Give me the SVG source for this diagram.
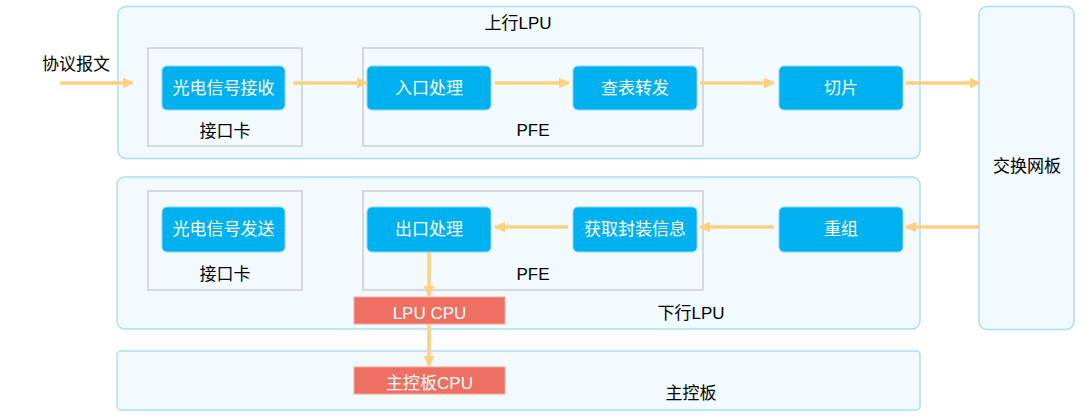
<svg xmlns="http://www.w3.org/2000/svg" width="1088" height="418" viewBox="0 0 1088 418">
<style>
.panel{fill:#f3fafd;stroke:#abdef6;stroke-width:1.5}
.card{fill:none;stroke:#c6c6c6;stroke-width:1.3}
.blk{fill:#00b1ef;stroke:#8fd5f2;stroke-width:1}
.cpu{fill:#ed7062;stroke:#f4a69c;stroke-width:1}
.t{font-family:"Liberation Sans","Noto Sans CJK SC",sans-serif;font-size:17px;fill:#000;text-anchor:middle;dominant-baseline:central}
.w{fill:#fff}
.arr{stroke:#ffd07e;stroke-width:3.5;fill:none;marker-end:url(#ah)}
</style>
<defs>
<marker id="ah" markerWidth="11" markerHeight="11" refX="10" refY="5.5" orient="auto" markerUnits="userSpaceOnUse">
<path d="M0,0 L11,5.5 L0,11 Z" fill="#ffd07e"/>
</marker>
</defs>
<g id="uplpu">
<rect class="panel" x="118" y="6.5" width="802" height="152" rx="8"/>
<text class="t" x="518" y="23">上行LPU</text>
</g>
<g id="switch">
<rect class="panel" x="979" y="6.5" width="95" height="323" rx="8"/>
<text class="t" x="1027" y="166">交换网板</text>
</g>
<g id="downlpu">
<rect class="panel" x="117" y="177" width="803" height="152" rx="8"/>
<text class="t" x="691" y="313">下行LPU</text>
</g>
<g id="mpu">
<rect class="panel" x="117" y="351" width="803" height="59" rx="4"/>
<text class="t" x="691" y="393">主控板</text>
</g>
<g id="label-in"><text class="t" x="76" y="64">协议报文</text></g>
<g id="card-up">
<rect class="card" x="148" y="48" width="154" height="98"/>
<text class="t" x="225" y="131">接口卡</text>
</g>
<g id="pfe-up">
<rect class="card" x="363" y="48" width="340" height="98"/>
<text class="t" x="533" y="130">PFE</text>
</g>
<g id="card-down">
<rect class="card" x="148" y="191" width="154" height="99"/>
<text class="t" x="225" y="274">接口卡</text>
</g>
<g id="pfe-down">
<rect class="card" x="363" y="191" width="340" height="99"/>
<text class="t" x="533" y="274">PFE</text>
</g>
<g id="rx"><rect class="blk" x="162" y="66" width="123" height="44" rx="5"/><text class="t w" x="223.5" y="88">光电信号接收</text></g>
<g id="ingress"><rect class="blk" x="367" y="66" width="124" height="44" rx="5"/><text class="t w" x="429" y="88">入口处理</text></g>
<g id="lookup"><rect class="blk" x="573" y="66" width="124" height="44" rx="5"/><text class="t w" x="635" y="88">查表转发</text></g>
<g id="slice"><rect class="blk" x="779" y="66" width="124" height="44" rx="5"/><text class="t w" x="841" y="88">切片</text></g>
<g id="tx"><rect class="blk" x="162" y="207" width="123" height="45" rx="5"/><text class="t w" x="223.5" y="229.5">光电信号发送</text></g>
<g id="egress"><rect class="blk" x="367" y="207" width="124" height="45" rx="5"/><text class="t w" x="429" y="229.5">出口处理</text></g>
<g id="encap"><rect class="blk" x="573" y="207" width="124" height="45" rx="5"/><text class="t w" x="635" y="229.5">获取封装信息</text></g>
<g id="reasm"><rect class="blk" x="779" y="207" width="124" height="45" rx="5"/><text class="t w" x="841" y="229.5">重组</text></g>
<g id="lpucpu"><rect class="cpu" x="354" y="297" width="151" height="27"/><text class="t w" x="429.5" y="313">LPU CPU</text></g>
<g id="mpucpu"><rect class="cpu" x="354" y="367" width="151" height="27"/><text class="t w" x="429.5" y="383">主控板CPU</text></g>
<g id="connectors">
<line class="arr" x1="60" y1="83" x2="133" y2="83"/>
<line class="arr" x1="293" y1="83" x2="367" y2="83"/>
<line class="arr" x1="495" y1="83" x2="569" y2="83"/>
<line class="arr" x1="700" y1="83" x2="774" y2="83"/>
<line class="arr" x1="906" y1="83" x2="980" y2="83"/>
<line class="arr" x1="980" y1="227" x2="906" y2="227"/>
<line class="arr" x1="774" y1="227" x2="700" y2="227"/>
<line class="arr" x1="568" y1="227" x2="495" y2="227"/>
<line class="arr" x1="429" y1="252" x2="429" y2="296"/>
<line class="arr" x1="429" y1="324" x2="429" y2="366"/>
</g>
</svg>
